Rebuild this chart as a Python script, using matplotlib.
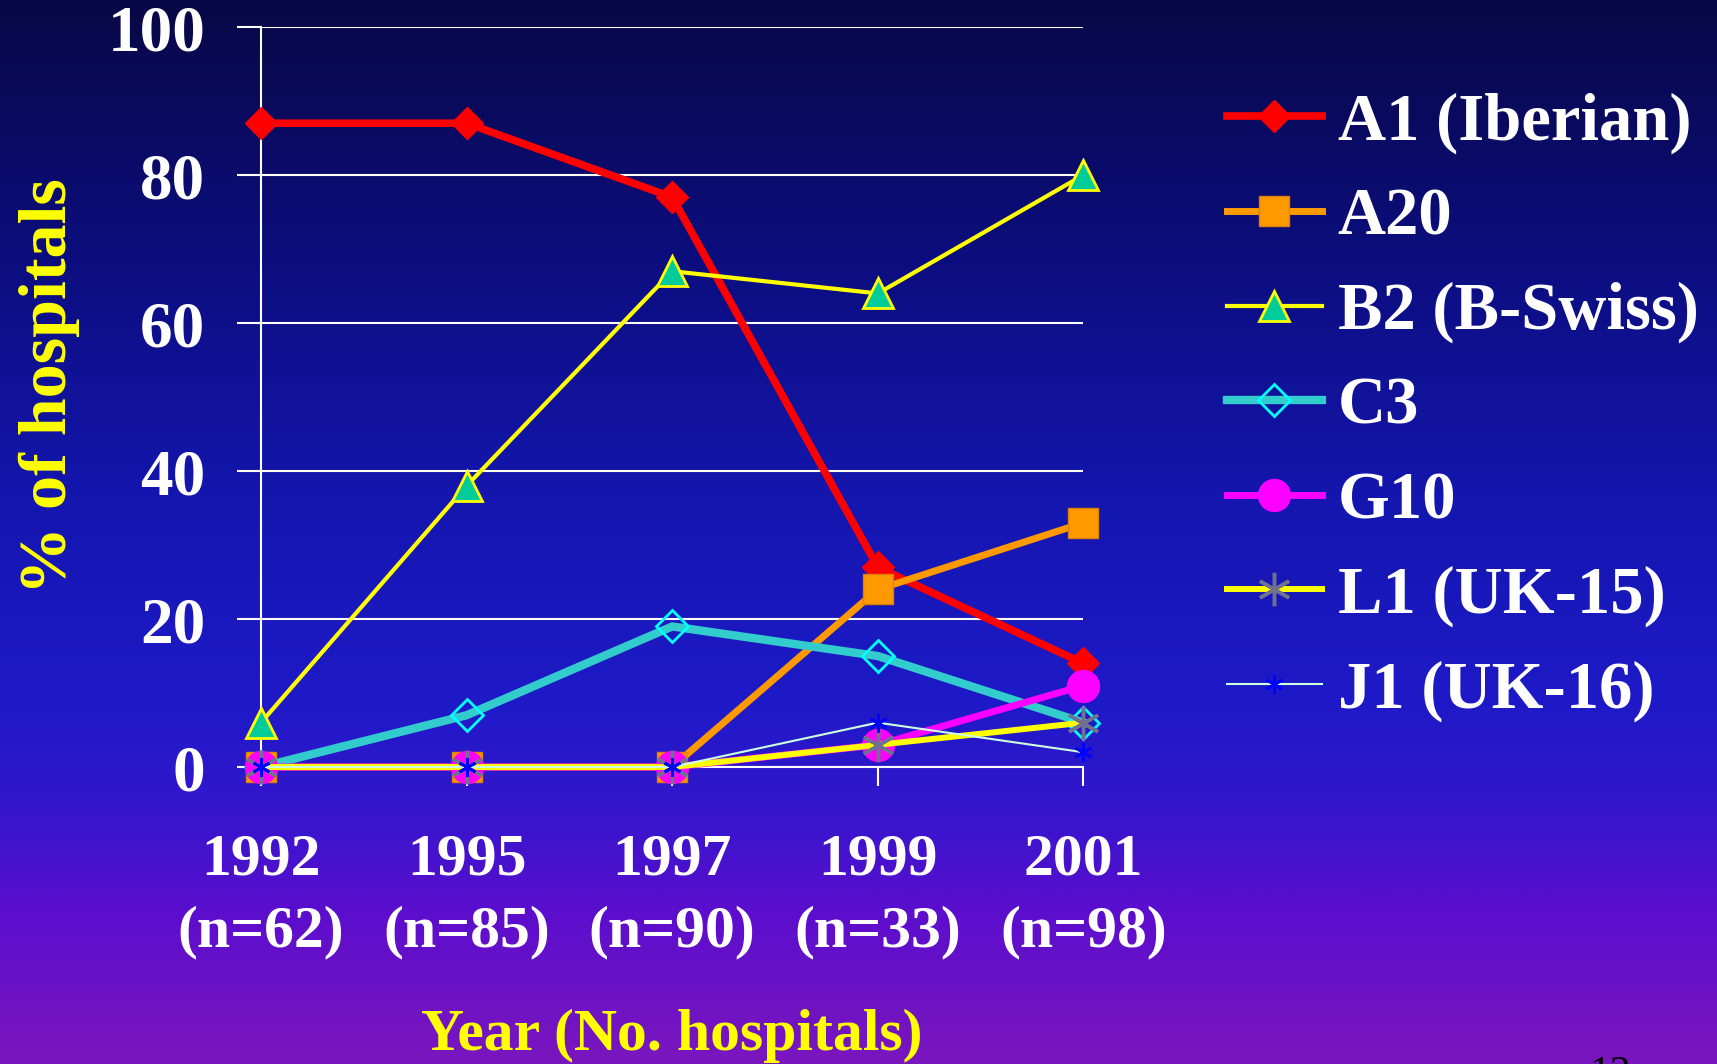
import matplotlib
matplotlib.use("Agg")
import matplotlib.pyplot as plt
import numpy as np
from matplotlib.colors import LinearSegmentedColormap

plt.rcParams['font.family'] = ['Liberation Serif', 'DejaVu Serif']
plt.rcParams['font.weight'] = 'bold'

years = ['1992', '1995', '1997', '1999', '2001']
n_hosp = [62, 85, 90, 33, 98]

a1 = [87, 87, 77, 27, 14]
a20 = [0, 0, 0, 24, 33]
b2 = [6, 38, 67, 64, 80]
c3 = [0, 7, 19, 15, 6]
g10 = [0, 0, 0, 3, 11]
l1 = [0, 0, 0, 3, 6]
j1 = [0, 0, 0, 6, 2]

fig = plt.figure(figsize=(17.17, 10.64), dpi=100)

# slide background: navy at the top fading to violet at the bottom
bg = fig.add_axes([0, 0, 1, 1], zorder=-10)
bg_cmap = LinearSegmentedColormap.from_list('slide', [
    (0.00, (8/255, 8/255, 70/255)),
    (0.25, (12/255, 14/255, 128/255)),
    (0.47, (20/255, 22/255, 175/255)),
    (0.66, (30/255, 26/255, 200/255)),
    (0.76, (52/255, 22/255, 205/255)),
    (0.86, (92/255, 14/255, 205/255)),
    (1.00, (122/255, 22/255, 190/255)),
])
bg.imshow(np.linspace(0, 1, 512).reshape(-1, 1), cmap=bg_cmap, aspect='auto',
          extent=[0, 1, 0, 1], origin='upper')
bg.axis('off')

ax = fig.add_axes([0.152, 0.2791, 0.479, 0.6955])
ax.set_facecolor('none')
x = np.arange(len(years))

ax.plot(x, a1, color='#ff0000', lw=5.5, marker='D', ms=16, mfc='#ff0000',
        mec='#ff0000', label='A1 (Iberian)', clip_on=False, zorder=3)
ax.plot(x, a20, color='#ff9900', lw=5, marker='s', ms=22, mfc='#ff9900',
        mec='#e08000', label='A20', clip_on=False, zorder=3)
ax.plot(x, b2, color='#ffff00', lw=3, marker='^', ms=22, mfc='#00cc99',
        mec='#ffff00', mew=2, label='B2 (B-Swiss)', clip_on=False, zorder=3)
ax.plot(x, c3, color='#33cccc', lw=6, marker='D', ms=16, mfc='none',
        mec='#00ffff', mew=2, label='C3', clip_on=False, zorder=3)
ax.plot(x, g10, color='#ff00ff', lw=5, marker='o', ms=23, mfc='#ff00ff',
        mec='#ff00ff', label='G10', clip_on=False, zorder=3)
ax.plot(x, l1, color='#ffff00', lw=4.3, marker=(6, 2, 0), ms=24,
        mec='#707090', mew=2.5, label='L1 (UK-15)', clip_on=False, zorder=3)
ax.plot(x, j1, color='#ccffdd', lw=1.5, marker=(6, 2, 0), ms=13,
        mec='#0000ff', mew=2, label='J1 (UK-16)', clip_on=False, zorder=3)

ax.set_xlim(0, 4)
ax.set_ylim(0, 100)
ax.set_yticks(range(0, 101, 20))
ax.set_xticks(x)
ax.set_xticklabels([f'{y}\n(n={n})' for y, n in zip(years, n_hosp)],
                   linespacing=1.42)
ax.yaxis.grid(True, color='white', lw=1.5)
ax.set_axisbelow(True)
for s in ['top', 'right']:
    ax.spines[s].set_visible(False)
for s in ['left', 'bottom']:
    ax.spines[s].set_color('white')
    ax.spines[s].set_linewidth(1.5)
ax.tick_params(axis='y', colors='white', length=17, width=1.5, pad=23,
               labelsize=47)
ax.tick_params(axis='x', colors='white', length=14, width=1.5, pad=34,
               labelsize=43)

fig.text(0.029, 0.637, '% of hospitals', rotation=90, color='#ffff00',
         fontsize=49, ha='center', va='center')
fig.text(0.391, 0.013, 'Year (No. hospitals)', color='#ffff00',
         fontsize=43, ha='center', va='baseline')
fig.text(0.938, -0.02, '13', color='black', fontsize=30, fontweight='normal',
         ha='center', va='baseline')

leg = ax.legend(loc='upper left', bbox_to_anchor=(1227/1717, 0.913),
                bbox_transform=fig.transFigure, frameon=False, fontsize=48,
                handlelength=1.42, handletextpad=0.24, labelspacing=0.5,
                borderpad=0, borderaxespad=0, numpoints=1)
for t in leg.get_texts():
    t.set_color('white')

fig.savefig('out.png', dpi=100)
